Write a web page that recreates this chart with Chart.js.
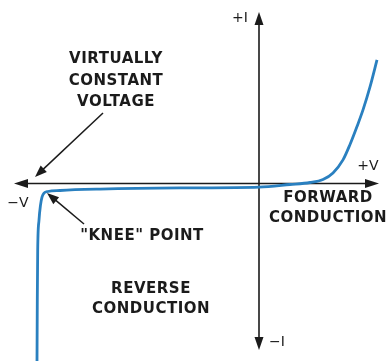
<!DOCTYPE html>
<html>
<head>
<meta charset="utf-8">
<script src="https://cdn.jsdelivr.net/npm/chart.js@4/dist/chart.umd.min.js"></script>
<style>
  html, body { margin:0; padding:0; background:#fff; }
  #wrap { width:387px; height:361px; position:relative; }
</style>
</head>
<body>
<div id="wrap"><canvas id="iv"></canvas></div>
<script>
/* ── Diode I-V curve (arbitrary units, origin where the axes cross) ── */
const voltage = [-11.1, -11.085, -11.065, -11.0, -10.925, -10.85, -10.75, -10.55, -9.95, -7.95, -3.95, 0.0, 1.55, 2.55, 3.2, 3.7, 4.2, 4.55, 4.9, 5.2, 5.55, 5.9];
const current = [-8.93, -5.83, -3.33, -1.83, -1.08, -0.68, -0.48, -0.4, -0.35, -0.28, -0.22, -0.18, -0.05, 0.05, 0.2, 0.53, 1.18, 1.95, 2.85, 3.68, 4.83, 6.18];

// axis extents
const vRange = [-12.95, 6.4];
const iRange = [-8.875, 9.175];

const INK  = '#1b1b1b';
const BLUE = '#2a80c0';
const BOLD = 'bold 15px "DejaVu Sans"';
const THIN = '14px "DejaVu Sans"';

/* ── label text + pixel anchors ──────────────────────────────────── */
const labels = [
  { t:'VIRTUALLY',    x:116, y:59,  f:BOLD },
  { t:'CONSTANT',     x:116, y:81,  f:BOLD },
  { t:'VOLTAGE',      x:116, y:102, f:BOLD },
  { t:'"KNEE" POINT', x:142, y:236, f:BOLD },
  { t:'REVERSE',      x:151, y:289, f:BOLD },
  { t:'CONDUCTION',   x:151, y:309, f:BOLD },
  { t:'FORWARD',      x:328, y:198, f:BOLD },
  { t:'CONDUCTION',   x:328, y:218, f:BOLD },
  { t:'\u2212V',      x:18,  y:203, f:THIN },
  { t:'+V',           x:368, y:166, f:THIN },
  { t:'+I',           x:240, y:18,  f:THIN },
  { t:'\u2212I',      x:277, y:342, f:THIN }
];

function arrow(ctx, x1, y1, x2, y2, len, half) {
  const a = Math.atan2(y2 - y1, x2 - x1);
  ctx.beginPath();
  ctx.moveTo(x1, y1);
  ctx.lineTo(x2 - Math.cos(a) * len * 0.8, y2 - Math.sin(a) * len * 0.8);
  ctx.stroke();
  ctx.beginPath();
  ctx.moveTo(x2, y2);
  ctx.lineTo(x2 - Math.cos(a) * len - Math.sin(a) * half, y2 - Math.sin(a) * len + Math.cos(a) * half);
  ctx.lineTo(x2 - Math.cos(a) * len + Math.sin(a) * half, y2 - Math.sin(a) * len - Math.cos(a) * half);
  ctx.closePath();
  ctx.fill();
}

// axes drawn under the curve, labels and pointers on top
const axesPlugin = {
  id: 'ivAxes',
  beforeDatasetsDraw(chart) {
    const { ctx, scales:{ x, y } } = chart;
    const ox = x.getPixelForValue(0), oy = y.getPixelForValue(0);
    ctx.save();
    ctx.strokeStyle = INK; ctx.fillStyle = INK; ctx.lineWidth = 1.6;
    arrow(ctx, ox, oy, 379, oy, 14, 4.5);
    arrow(ctx, ox, oy, 14, oy, 14, 4.5);
    arrow(ctx, ox, oy, ox, 12, 13, 4.5);
    arrow(ctx, ox, oy, ox, 350, 13, 4.5);
    ctx.restore();
  },
  afterDatasetsDraw(chart) {
    const { ctx } = chart;
    ctx.save();
    ctx.strokeStyle = INK; ctx.fillStyle = INK; ctx.lineWidth = 1.5;
    arrow(ctx, 103, 113, 35, 177, 12, 4.5);
    arrow(ctx, 84, 224, 47, 193, 12, 4.5);
    ctx.textAlign = 'center'; ctx.textBaseline = 'middle';
    labels.forEach(l => {
      ctx.font = l.f;
      ctx.letterSpacing = l.f === BOLD ? '0.5px' : '0px';
      ctx.fillText(l.t, l.x, l.y);
    });
    ctx.restore();
  }
};

new Chart(document.getElementById('iv'), {
  type: 'line',
  data: {
    datasets: [{
      data: voltage.map((v, i) => ({ x:v, y:current[i] })),
      borderColor: BLUE, borderWidth: 2.8,
      pointRadius: 0, fill: false,
      cubicInterpolationMode: 'monotone'
    }]
  },
  options: {
    responsive: true, maintainAspectRatio: false, animation: false,
    layout: { padding: 0 },
    scales: {
      x: { type:'linear', min:vRange[0], max:vRange[1], display:false },
      y: { type:'linear', min:iRange[0], max:iRange[1], display:false }
    },
    plugins: { legend:{ display:false }, tooltip:{ enabled:false } }
  },
  plugins: [axesPlugin]
});
</script>
</body>
</html>
